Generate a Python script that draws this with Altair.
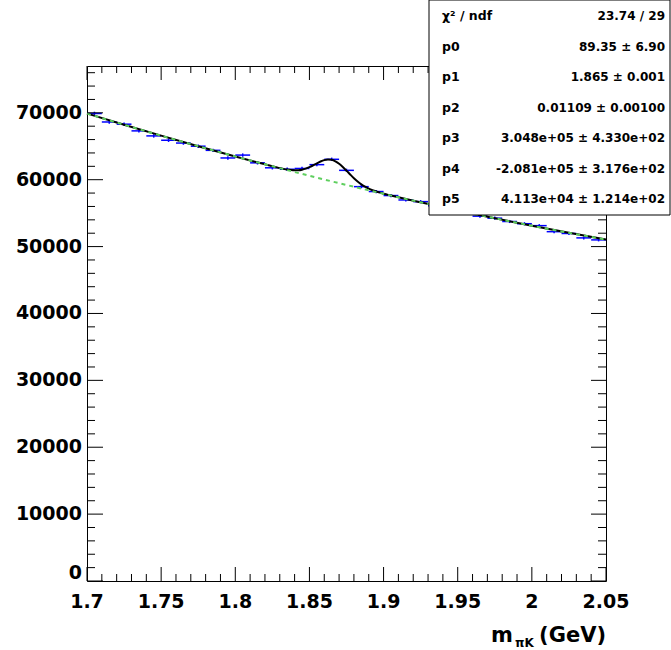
import altair as alt
import pandas as pd

# ---------------- data ----------------
bin_centers = [1.705, 1.715, 1.725, 1.735, 1.745, 1.755, 1.765, 1.775, 1.785, 1.795,
               1.805, 1.815, 1.825, 1.835, 1.845, 1.855, 1.865, 1.875, 1.885, 1.895,
               1.905, 1.915, 1.925, 1.935, 1.945, 1.955, 1.965, 1.975, 1.985, 1.995,
               2.005, 2.015, 2.025, 2.035, 2.045]
counts = [69900, 68630, 68300, 67300, 66550, 65900, 65480, 65010, 64390, 63250,
          63680, 62520, 61780, 61560, 61680, 62250, 63050, 61400, 58960, 58230,
          57630, 56970, 56720, 56100, 55650, 55150, 54550, 54250, 53750, 53420,
          53130, 52230, 51960, 51300, 51000]
errors = [264, 262, 261, 259, 258, 257, 256, 255, 254, 251,
          252, 250, 249, 248, 248, 249, 251, 248, 243, 241,
          240, 239, 238, 237, 236, 235, 234, 233, 232, 231,
          230, 229, 228, 226, 226]

# total fit curve (signal + background)
fit_x = [1.70, 1.725, 1.75, 1.775, 1.80, 1.82, 1.8225, 1.825, 1.8275, 1.83, 1.8325,
         1.835, 1.8375, 1.84, 1.8425, 1.845, 1.8475, 1.85, 1.8525, 1.855, 1.8575,
         1.86, 1.8625, 1.865, 1.8675, 1.87, 1.8725, 1.875, 1.8775, 1.88, 1.8825,
         1.885, 1.8875, 1.89, 1.8925, 1.895, 1.8975, 1.90, 1.9025, 1.905, 1.91,
         1.925, 1.95, 1.975, 2.00, 2.025, 2.05]
fit_y = [69896, 68215, 66586, 65008, 63481, 62298, 62154, 62012, 61874, 61739, 61618,
         61514, 61438, 61399, 61415, 61497, 61649, 61870, 62146, 62446, 62723,
         62931, 63023, 62968, 62751, 62385, 61903, 61352, 60780, 60230, 59735,
         59310, 58955, 58665, 58430, 58234, 58064, 57911, 57772, 57638, 57376,
         56621, 55402, 54237, 53120, 52058, 51044]

# background component (green dashed)
bkg_x = [1.70, 1.725, 1.75, 1.775, 1.80, 1.825, 1.85, 1.875, 1.90, 1.925,
         1.95, 1.975, 2.00, 2.025, 2.05]
bkg_y = [69896, 68215, 66586, 65008, 63481, 62007, 60582, 59211, 57889, 56621,
         55402, 54237, 53120, 52058, 51044]

x_major = [1.7, 1.75, 1.8, 1.85, 1.9, 1.95, 2.0, 2.05]
x_labels = ["1.7", "1.75", "1.8", "1.85", "1.9", "1.95", "2", "2.05"]
x_minor = [1.71, 1.72, 1.73, 1.74, 1.76, 1.77, 1.78, 1.79, 1.81, 1.82, 1.83, 1.84,
           1.86, 1.87, 1.88, 1.89, 1.91, 1.92, 1.93, 1.94, 1.96, 1.97, 1.98, 1.99,
           2.01, 2.02, 2.03, 2.04]
y_major = [0, 10000, 20000, 30000, 40000, 50000, 60000, 70000]
y_labels = ["0", "10000", "20000", "30000", "40000", "50000", "60000", "70000"]
y_minor = [2000, 4000, 6000, 8000, 12000, 14000, 16000, 18000, 22000, 24000, 26000,
           28000, 32000, 34000, 36000, 38000, 42000, 44000, 46000, 48000, 52000,
           54000, 56000, 58000, 62000, 64000, 66000, 68000, 72000, 74000, 76000]

stat_labels = ["χ² / ndf", "p0", "p1", "p2", "p3", "p4", "p5"]
stat_values = ["23.74 / 29", "89.35 ± 6.90", "1.865 ± 0.001", "0.01109 ± 0.00100",
               "3.048e+05 ± 4.330e+02", "-2.081e+05 ± 3.176e+02",
               "4.113e+04 ± 1.214e+02"]

# ---------------- layout ----------------
W, H = 519, 515
FONT = "DejaVu Sans"
xs = alt.Scale(domain=[1.7, 2.05], nice=False, zero=False)
ys = alt.Scale(domain=[0, 77000], nice=False, zero=True)

pts = pd.DataFrame({"m": bin_centers, "n": counts, "e": errors})
base = alt.Chart(pts).transform_calculate(
    lo="datum.m - 0.005", hi="datum.m + 0.005",
    ylo="datum.n - datum.e", yhi="datum.n + datum.e")

hbars = base.mark_rule(color="#0000ff", strokeWidth=1.5).encode(
    x=alt.X("lo:Q", scale=xs, axis=None), x2="hi:Q",
    y=alt.Y("n:Q", scale=ys, axis=None))
vbars = base.mark_rule(color="#0000ff", strokeWidth=1.5).encode(
    x=alt.X("m:Q", scale=xs, axis=None),
    y=alt.Y("ylo:Q", scale=ys, axis=None), y2="yhi:Q")

fit_line = alt.Chart(pd.DataFrame({"x": fit_x, "y": fit_y})).mark_line(
    color="black", strokeWidth=2, interpolate="monotone").encode(
    x=alt.X("x:Q", scale=xs, axis=None), y=alt.Y("y:Q", scale=ys, axis=None))
bkg_line = alt.Chart(pd.DataFrame({"x": bkg_x, "y": bkg_y})).mark_line(
    color="#5fcf5f", strokeWidth=2, strokeDash=[4, 4], interpolate="monotone").encode(
    x=alt.X("x:Q", scale=xs, axis=None), y=alt.Y("y:Q", scale=ys, axis=None))


def xticks(vals, y0, y1):
    return alt.Chart(pd.DataFrame({"v": vals})).mark_rule(color="black", strokeWidth=1).encode(
        x=alt.X("v:Q", scale=xs, axis=None), y=alt.value(y0), y2=alt.value(y1))


def yticks(vals, x0, x1):
    return alt.Chart(pd.DataFrame({"v": vals})).mark_rule(color="black", strokeWidth=1).encode(
        y=alt.Y("v:Q", scale=ys, axis=None), x=alt.value(x0), x2=alt.value(x1))


ticks = [
    xticks(x_major, H, H - 14), xticks(x_minor, H, H - 7),
    xticks(x_major, 0, 14), xticks(x_minor, 0, 7),
    yticks(y_major, 0, 16), yticks(y_minor, 0, 8),
    yticks(y_major, W, W - 15), yticks(y_minor, W, W - 8),
]

# tick labels
lab_style = dict(font=FONT, fontWeight="bold", fontSize=19, color="black")
xlab = alt.Chart(pd.DataFrame({"v": x_major, "t": x_labels})).mark_text(
    align="center", baseline="top", **lab_style).encode(
    x=alt.X("v:Q", scale=xs, axis=None), y=alt.value(H + 12), text="t:N")
ydf = pd.DataFrame({"v": y_major, "t": y_labels})
ylab = alt.Chart(ydf).transform_filter("datum.v > 0").mark_text(
    align="right", baseline="middle", **lab_style).encode(
    y=alt.Y("v:Q", scale=ys, axis=None), x=alt.value(-5), text="t:N")
ylab0 = alt.Chart(ydf).transform_filter("datum.v == 0").mark_text(
    align="right", baseline="middle", dy=-8, **lab_style).encode(
    y=alt.Y("v:Q", scale=ys, axis=None), x=alt.value(-5), text="t:N")

# statistics box
box = alt.Chart(pd.DataFrame({"k": [0]})).mark_rect(
    fill="white", stroke="black", strokeWidth=1).encode(
    x=alt.value(342), x2=alt.value(583), y=alt.value(-66), y2=alt.value(149))

stats = pd.DataFrame({"lab": stat_labels, "val": stat_values,
                      "row": list(range(len(stat_labels)))})
sbase = alt.Chart(stats).transform_calculate(py="datum.row * 30.5 - 50")
stat_lab = sbase.mark_text(align="left", baseline="middle", font=FONT,
                           fontWeight="bold", fontSize=12.5, color="black").encode(
    x=alt.value(355), y=alt.Y("py:Q", scale=None, axis=None), text="lab:N")
stat_val = sbase.mark_text(align="right", baseline="middle", font=FONT,
                           fontWeight="bold", fontSize=12, color="black").encode(
    x=alt.value(578), y=alt.Y("py:Q", scale=None, axis=None), text="val:N")

# x-axis title  m_{πK} (GeV)
t1 = alt.Chart(pd.DataFrame({"t": ["m"]})).mark_text(
    align="left", baseline="alphabetic", font=FONT, fontWeight="bold",
    fontSize=21, color="black").encode(x=alt.value(404), y=alt.value(576), text="t:N")
t2 = alt.Chart(pd.DataFrame({"t": ["πK"]})).mark_text(
    align="left", baseline="alphabetic", font=FONT, fontWeight="bold",
    fontSize=12, color="black").encode(x=alt.value(428), y=alt.value(581), text="t:N")
t3 = alt.Chart(pd.DataFrame({"t": ["(GeV)"]})).mark_text(
    align="right", baseline="alphabetic", font=FONT, fontWeight="bold",
    fontSize=21, color="black").encode(x=alt.value(519), y=alt.value(576), text="t:N")

chart = alt.layer(hbars, vbars, fit_line, bkg_line, *ticks, xlab, ylab, ylab0,
                  box, stat_lab, stat_val, t1, t2, t3).properties(
    width=W, height=H,
    autosize=alt.AutoSizeParams(type="none"),
    padding={"left": 87, "top": 66, "right": 65, "bottom": 69},
    background="white",
).configure_view(stroke="black", strokeWidth=1)

chart.save("out.html", embed_options={"renderer": "svg", "actions": False})
